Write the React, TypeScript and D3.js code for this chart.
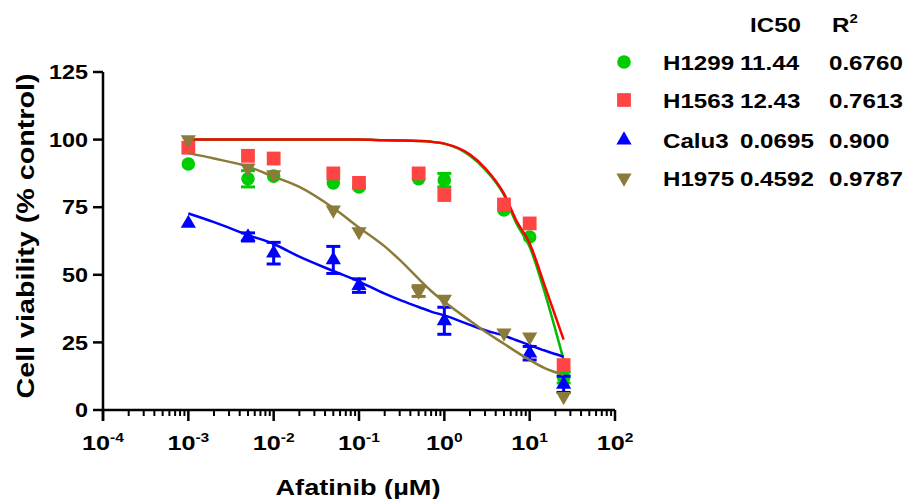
import React from "react";
import * as d3 from "d3";

// doses (µM) at which cells were measured
const doses = [0.001, 0.005, 0.01, 0.05, 0.1, 0.5, 1, 5, 10, 25];
const calu3Doses = [0.001, 0.005, 0.01, 0.05, 0.1, 1, 10, 25];

// measured viability (% control)
const h1299 = [91, 85.5, 86.5, 84, 82.5, 85.5, 85, 74, 64, 12];
const h1299Err = [0, 3, 0, 0, 0, 0, 2.5, 0, 0, 2];
const h1563 = [97, 94, 93, 87.5, 84, 87.5, 79.5, 76, 69, 16.6];
const h1563Err = [0, 0, 0, 0, 0, 0, 0, 0, 0, 0];
const calu3 = [69, 64, 58, 55.5, 46, 33, 21, 9.5];
const calu3Err = [0, 1.5, 4, 5, 2.5, 5, 2.5, 3];
const h1975 = [100, 89.5, 87, 74, 66, 44, 41, 28.5, 27, 5];
const h1975Err = [0, 0, 0, 0, 0, 2, 0, 0, 0, 0];

// fitted curves
const fitDoses = [0.001, 0.002, 0.005, 0.01, 0.02, 0.05, 0.1, 0.2, 0.3, 0.5, 0.7, 1, 2, 3, 5, 7, 10, 15, 25];
const h1299Fit = [100, 100, 100, 100, 100, 100, 100, 99.8, 99.7, 99.5, 99.2, 98.5, 94, 89, 79.5, 69, 60.4, 43.5, 18.5];
const h1563Fit = [100, 100, 100, 100, 100, 100, 100, 99.8, 99.7, 99.5, 99.2, 98.5, 94.5, 89.5, 80, 70, 61.6, 46, 26];
const calu3Fit = [72.7, 69.5, 64.7, 61.4, 56.7, 51.4, 47.5, 43, 40.7, 38.1, 36.4, 35, 31.5, 29.5, 27.5, 25.8, 24, 22, 19.7];
const h1975Fit = [95, 93, 90, 86.3, 82.5, 74.7, 67.5, 60.5, 55.5, 48.5, 44, 40, 33, 29, 24.5, 21.5, 18.5, 15.5, 13];

const cellLines = ["H1299", "H1563", "Calu3", "H1975"];
const ic50 = ["11.44", "12.43", "0.0695", "0.4592"];
const r2 = ["0.6760", "0.7613", "0.900", "0.9787"];

const yTicks = [0, 25, 50, 75, 100, 125];
const xExps = [-4, -3, -2, -1, 0, 1, 2];

const FONT = "'Liberation Sans', Arial, sans-serif";

const series = [
  { name: cellLines[0], x: doses, y: h1299, err: h1299Err, fit: h1299Fit, fill: "#00cc00", line: "#00bb00", shape: "circle" },
  { name: cellLines[1], x: doses, y: h1563, err: h1563Err, fit: h1563Fit, fill: "#ff4444", line: "#ff0000", shape: "square" },
  { name: cellLines[2], x: calu3Doses, y: calu3, err: calu3Err, fit: calu3Fit, fill: "#0000ff", line: "#0000ff", shape: "up" },
  { name: cellLines[3], x: doses, y: h1975, err: h1975Err, fit: h1975Fit, fill: "#8a7b3a", line: "#8a7b3a", shape: "down" },
];

const markerPath = (shape: string) => {
  if (shape === "circle") return d3.symbol(d3.symbolCircle, 145)()!;
  if (shape === "square") return d3.symbol(d3.symbolSquare, 190)()!;
  return d3.symbol(d3.symbolTriangle, 100)()!;
};

const Marker = ({ shape, x, y, fill }: any) => (
  <path
    d={markerPath(shape)}
    fill={fill}
    transform={`translate(${x},${y})${shape === "down" ? " rotate(180)" : ""}`}
  />
);

export default function App() {
  const x = d3.scaleLog().domain([1e-4, 1e2]).range([103, 615]);
  const y = d3.scaleLinear().domain([0, 125]).range([410, 72]);

  const line = d3
    .line<[number, number]>()
    .x((d) => x(d[0]))
    .y((d) => y(d[1]))
    .curve(d3.curveMonotoneX);

  // minor ticks 2..9 in each decade
  const minor: number[] = [];
  for (let e = -4; e < 2; e++) for (let k = 2; k <= 9; k++) minor.push(k * Math.pow(10, e));

  const legendX = 624;
  const legendRows = [62, 100, 140, 178];

  return (
    <svg width={909} height={499} style={{ position: "absolute", left: 0, top: 0, background: "#fff" }} fontFamily={FONT} fontWeight="bold">
      {/* axes */}
      <g stroke="#000" strokeWidth={2.5} fill="none">
        <line x1={x(1e-4)} x2={x(1e-4)} y1={y(125)} y2={y(0) + 11} />
        <line x1={x(1e-4)} x2={x(1e2)} y1={y(0)} y2={y(0)} />
        {yTicks.map((t) => (
          <line key={t} x1={x(1e-4) - 10} x2={x(1e-4)} y1={y(t)} y2={y(t)} />
        ))}
        {xExps.map((e) => (
          <line key={e} x1={x(Math.pow(10, e))} x2={x(Math.pow(10, e))} y1={y(0)} y2={y(0) + 11} />
        ))}
      </g>
      <g stroke="#000" strokeWidth={2} fill="none">
        {minor.map((m, i) => (
          <line key={i} x1={x(m)} x2={x(m)} y1={y(0)} y2={y(0) + 6} />
        ))}
      </g>

      {/* y tick labels */}
      {yTicks.map((t) => (
        <text key={t} transform={`translate(88,${y(t)}) scale(1.17,1)`} textAnchor="end" dy="0.36em" fontSize={20}>
          {t}
        </text>
      ))}

      {/* x tick labels */}
      {xExps.map((e) => (
        <text key={e} transform={`translate(${x(Math.pow(10, e))},450) scale(1.2,1)`} textAnchor="middle" fontSize={21}>
          <tspan>10</tspan>
          <tspan fontSize={13} dy={-8}>{e}</tspan>
        </text>
      ))}

      {/* axis titles */}
      <text x={358} y={495} textAnchor="middle" fontSize={22} textLength={165} lengthAdjust="spacingAndGlyphs">
        Afatinib (µM)
      </text>
      <text
        transform="translate(34,236) rotate(-90)"
        textAnchor="middle"
        fontSize={23}
        textLength={325}
        lengthAdjust="spacingAndGlyphs"
      >
        Cell viability (% control)
      </text>

      {/* series */}
      {series.map((s) => (
        <g key={s.name}>
          <path
            d={line(fitDoses.map((d, i) => [d, s.fit[i]] as [number, number]))!}
            fill="none"
            stroke={s.line}
            strokeWidth={2.5}
          />
          {s.x.map((d, i) =>
            s.err[i] > 0 ? (
              <g key={"e" + i} stroke={s.fill} strokeWidth={3}>
                <line x1={x(d)} x2={x(d)} y1={y(s.y[i] + s.err[i])} y2={y(s.y[i] - s.err[i])} />
                <line x1={x(d) - 7} x2={x(d) + 7} y1={y(s.y[i] + s.err[i])} y2={y(s.y[i] + s.err[i])} />
                <line x1={x(d) - 7} x2={x(d) + 7} y1={y(s.y[i] - s.err[i])} y2={y(s.y[i] - s.err[i])} />
              </g>
            ) : null
          )}
          {s.x.map((d, i) => (
            <Marker key={i} shape={s.shape} x={x(d)} y={y(s.y[i])} fill={s.fill} />
          ))}
        </g>
      ))}

      {/* legend */}
      <text transform="translate(750,32) scale(1.15,1)" fontSize={21}>IC50</text>
      <text transform="translate(832,32) scale(1.15,1)" fontSize={21}>
        <tspan>R</tspan>
        <tspan fontSize={13} dy={-9}>2</tspan>
      </text>
      {series.map((s, i) => (
        <g key={"l" + s.name}>
          <Marker shape={s.shape} x={legendX} y={legendRows[i]} fill={s.fill} />
          <text transform={`translate(663,${legendRows[i] + 8}) scale(1.15,1)`} fontSize={21}>{s.name}</text>
          <text transform={`translate(740,${legendRows[i] + 8}) scale(1.15,1)`} fontSize={21}>{ic50[i]}</text>
          <text transform={`translate(829,${legendRows[i] + 8}) scale(1.15,1)`} fontSize={21}>{r2[i]}</text>
        </g>
      ))}
    </svg>
  );
}
